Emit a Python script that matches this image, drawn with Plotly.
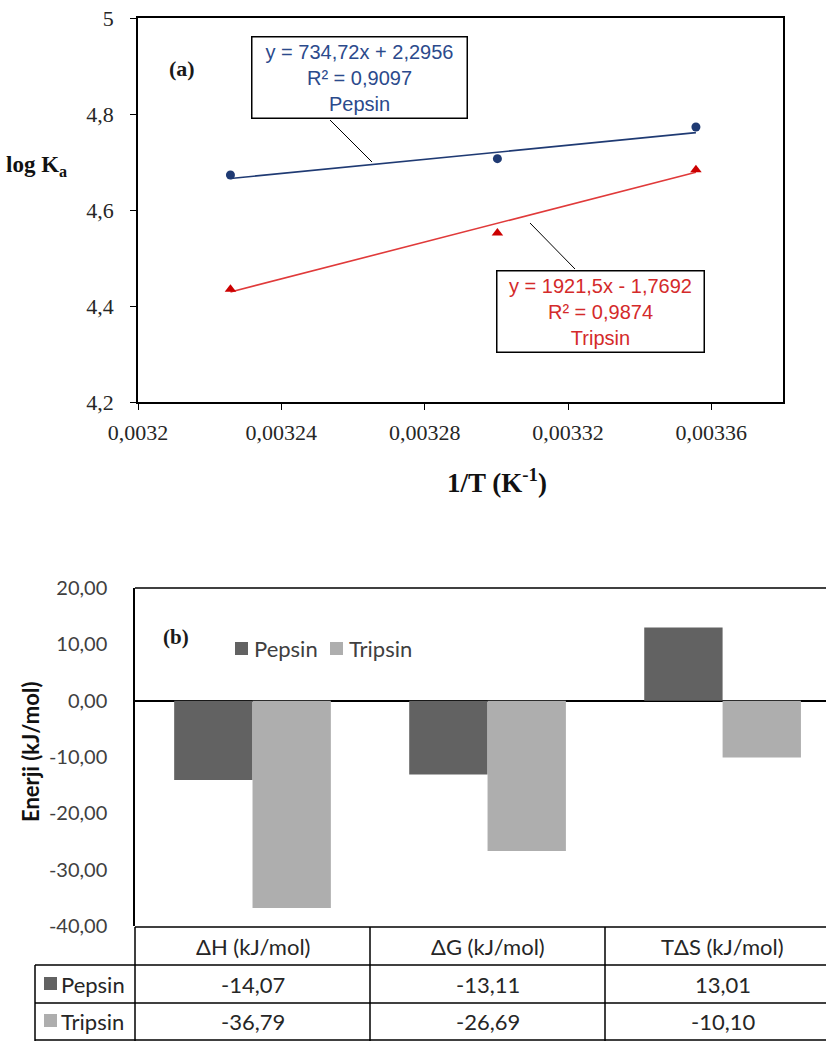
import plotly.graph_objects as go

W, H = 826, 1041

# ---------------- data (a) ----------------
inv_T = [0.0032258, 0.0033003, 0.0033557]
logKa_pepsin = [4.673, 4.707, 4.773]
logKa_tripsin = [4.435, 4.552, 4.684]
fit_pepsin = (734.72, 2.2956)
fit_tripsin = (1921.5, -1.7692)
x_ticks_a = [0.0032, 0.00324, 0.00328, 0.00332, 0.00336]
x_ticktext_a = ["0,0032", "0,00324", "0,00328", "0,00332", "0,00336"]
y_ticks_a = [4.2, 4.4, 4.6, 4.8, 5.0]
y_ticktext_a = ["4,2", "4,4", "4,6", "4,8", "5"]

# ---------------- data (b) ----------------
params = ["ΔH (kJ/mol)", "ΔG (kJ/mol)", "TΔS (kJ/mol)"]
energy_pepsin = [-14.07, -13.11, 13.01]
energy_tripsin = [-36.79, -26.69, -10.10]
y_ticks_b = [20, 10, 0, -10, -20, -30, -40]
y_ticktext_b = ["20,00", "10,00", "0,00", "-10,00", "-20,00", "-30,00", "-40,00"]

PEP_A = "#1F3A73"
TRI_A = "#D01F1F"
PEP_B = "#626262"
TRI_B = "#AEAEAE"


def px(x):
    return x / W


def py(y):
    return 1 - y / H


def fmt(v):
    return f"{v:.2f}".replace(".", ",")


fig = go.Figure()

# ---- chart (a) ----
xs_fit = [inv_T[0], inv_T[-1]]
fig.add_trace(go.Scatter(x=xs_fit, y=[fit_pepsin[0] * v + fit_pepsin[1] for v in xs_fit],
                         mode="lines", line=dict(color=PEP_A, width=1.6),
                         xaxis="x", yaxis="y", showlegend=False, hoverinfo="skip"))
fig.add_trace(go.Scatter(x=xs_fit, y=[fit_tripsin[0] * v + fit_tripsin[1] for v in xs_fit],
                         mode="lines", line=dict(color="#E03A3A", width=1.6),
                         xaxis="x", yaxis="y", showlegend=False, hoverinfo="skip"))
fig.add_trace(go.Scatter(x=inv_T, y=logKa_pepsin, mode="markers",
                         marker=dict(symbol="circle", size=9, color=PEP_A),
                         xaxis="x", yaxis="y", showlegend=False, name="Pepsin"))
fig.add_trace(go.Scatter(x=inv_T, y=logKa_tripsin, mode="markers",
                         marker=dict(symbol="triangle-up", size=10, color="#CC0000"),
                         xaxis="x", yaxis="y", showlegend=False, name="Tripsin"))

# ---- chart (b) ----
cats = list(range(len(params)))
fig.add_trace(go.Bar(x=cats, y=energy_pepsin, name="Pepsin", marker=dict(color=PEP_B, line=dict(width=0)),
                     xaxis="x2", yaxis="y2", showlegend=False))
fig.add_trace(go.Bar(x=cats, y=energy_tripsin, name="Tripsin", marker=dict(color=TRI_B, line=dict(width=0)),
                     xaxis="x2", yaxis="y2", showlegend=False))

serif = "Liberation Serif, Times New Roman, serif"
sans_b = "Lato, Open Sans, sans-serif"

fig.update_layout(
    width=W, height=H, margin=dict(l=0, r=0, t=0, b=0, autoexpand=False),
    paper_bgcolor="white", plot_bgcolor="white", showlegend=False,
    barmode="group", bargap=1 / 3, bargroupgap=0,
    xaxis=dict(domain=[px(138), px(783)], range=[0.0032, 0.00338], tickvals=x_ticks_a, ticktext=x_ticktext_a,
               showline=True, linecolor="black", linewidth=1.5, mirror=True, ticks="outside", ticklen=6,
               tickcolor="black", showgrid=False, zeroline=False, ticklabelstandoff=4,
               tickfont=dict(family=serif, size=22, color="#262626")),
    yaxis=dict(domain=[py(402), py(18)], range=[4.2, 5.0], tickvals=y_ticks_a, ticktext=y_ticktext_a,
               showline=True, linecolor="black", linewidth=1.5, mirror=True, ticks="outside", ticklen=6,
               tickcolor="black", showgrid=False, zeroline=False, ticklabelstandoff=12,
               tickfont=dict(family=serif, size=22, color="#262626")),
    xaxis2=dict(domain=[px(135), 1.0], range=[-0.5, 2.44], showticklabels=False, ticks="",
                showline=False, showgrid=False, zeroline=False, anchor="y2"),
    yaxis2=dict(domain=[py(926), py(588)], range=[-40, 20], tickvals=y_ticks_b, ticktext=y_ticktext_b,
                showline=True, linecolor="black", linewidth=1.5, ticks="", showgrid=False,
                zeroline=True, zerolinecolor="black", zerolinewidth=2, anchor="x2",
                ticklabelstandoff=22,
                tickfont=dict(family=sans_b, size=20, color="#404040")),
)

shapes = []
ann = []


def text(x, y, t, font, xanchor="center", yanchor="middle", **kw):
    ann.append(dict(xref="paper", yref="paper", x=px(x), y=py(y), text=t, showarrow=False,
                    xanchor=xanchor, yanchor=yanchor, font=font, **kw))


# Annotation boxes (a)
text(359, 77, "y = 734,72x + 2,2956<br>R² = 0,9097<br>Pepsin",
     dict(family="Liberation Sans, Arial", size=20, color="#2B4A8C"),
     bordercolor="black", borderwidth=1.5, bgcolor="white", width=214, height=80, borderpad=0)
text(600, 311, "y = 1921,5x - 1,7692<br>R² = 0,9874<br>Tripsin",
     dict(family="Liberation Sans, Arial", size=20, color="#D42A2A"),
     bordercolor="black", borderwidth=1.5, bgcolor="white", width=206, height=80, borderpad=0)
shapes.append(dict(type="line", xref="paper", yref="paper", x0=px(330), y0=py(120), x1=px(372), y1=py(162),
                   line=dict(color="black", width=1)))
shapes.append(dict(type="line", xref="paper", yref="paper", x0=px(530), y0=py(223), x1=px(575), y1=py(269),
                   line=dict(color="black", width=1)))

text(182, 68, "<b>(a)</b>", dict(family=serif, size=22, color="#1a1a1a"))
text(36, 166, "<b>log K<sub>a</sub></b>", dict(family=serif, size=23, color="#111"))
text(497, 481, "<b>1/T (K<sup>-1</sup>)</b>", dict(family=serif, size=27, color="#111"))

# (b) labels
text(176, 637, "<b>(b)</b>", dict(family=serif, size=21, color="#1a1a1a"))
text(30, 752, "<b>Enerji (kJ/mol)</b>", dict(family=sans_b, size=22, color="#111"), textangle=-90)

# manual legend (b)
lfont = dict(family=sans_b, size=22, color="#404040")
for name, color, xs in [("Pepsin", PEP_B, 235), ("Tripsin", TRI_B, 330)]:
    shapes.append(dict(type="rect", xref="paper", yref="paper", x0=px(xs), x1=px(xs + 13),
                       y0=py(655), y1=py(642), fillcolor=color, line=dict(width=0)))
    text(xs + 17, 648, name, lfont, xanchor="left")

# plot (b) top border
shapes.append(dict(type="line", xref="paper", yref="paper", x0=px(135), y0=py(588), x1=1.0, y1=py(588),
                   line=dict(color="black", width=1.5)))

# data table
row_lines = [927, 965, 1003, 1040]
col_edges = [135, 370, 605]
for i, yv in enumerate(row_lines):
    x0 = 135 if i == 0 else 35
    shapes.append(dict(type="line", xref="paper", yref="paper", x0=px(x0), y0=py(yv), x1=1.0, y1=py(yv),
                       line=dict(color="black", width=1.5)))
for xv in col_edges:
    shapes.append(dict(type="line", xref="paper", yref="paper", x0=px(xv), y0=py(927), x1=px(xv), y1=py(1041),
                       line=dict(color="black", width=1.5)))
shapes.append(dict(type="line", xref="paper", yref="paper", x0=px(35), y0=py(965), x1=px(35), y1=py(1041),
                   line=dict(color="black", width=1.5)))

tfont = dict(family=sans_b, size=22, color="#262626")
for i, p in enumerate(params):
    ann.append(dict(xref="x2", yref="paper", x=i, y=py(946), text=p, showarrow=False, font=tfont,
                    xanchor="center", yanchor="middle"))
    ann.append(dict(xref="x2", yref="paper", x=i, y=py(984), text=fmt(energy_pepsin[i]), showarrow=False,
                    font=tfont, xanchor="center", yanchor="middle"))
    ann.append(dict(xref="x2", yref="paper", x=i, y=py(1021), text=fmt(energy_tripsin[i]), showarrow=False,
                    font=tfont, xanchor="center", yanchor="middle"))

for name, color, yv in [("Pepsin", PEP_B, 984), ("Tripsin", TRI_B, 1021)]:
    shapes.append(dict(type="rect", xref="paper", yref="paper", x0=px(44), x1=px(57), y0=py(yv + 6),
                       y1=py(yv - 7), fillcolor=color, line=dict(width=0)))
    text(59, yv, name, tfont, xanchor="left")

fig.update_layout(shapes=shapes, annotations=ann)
fig.write_html("out.html")
